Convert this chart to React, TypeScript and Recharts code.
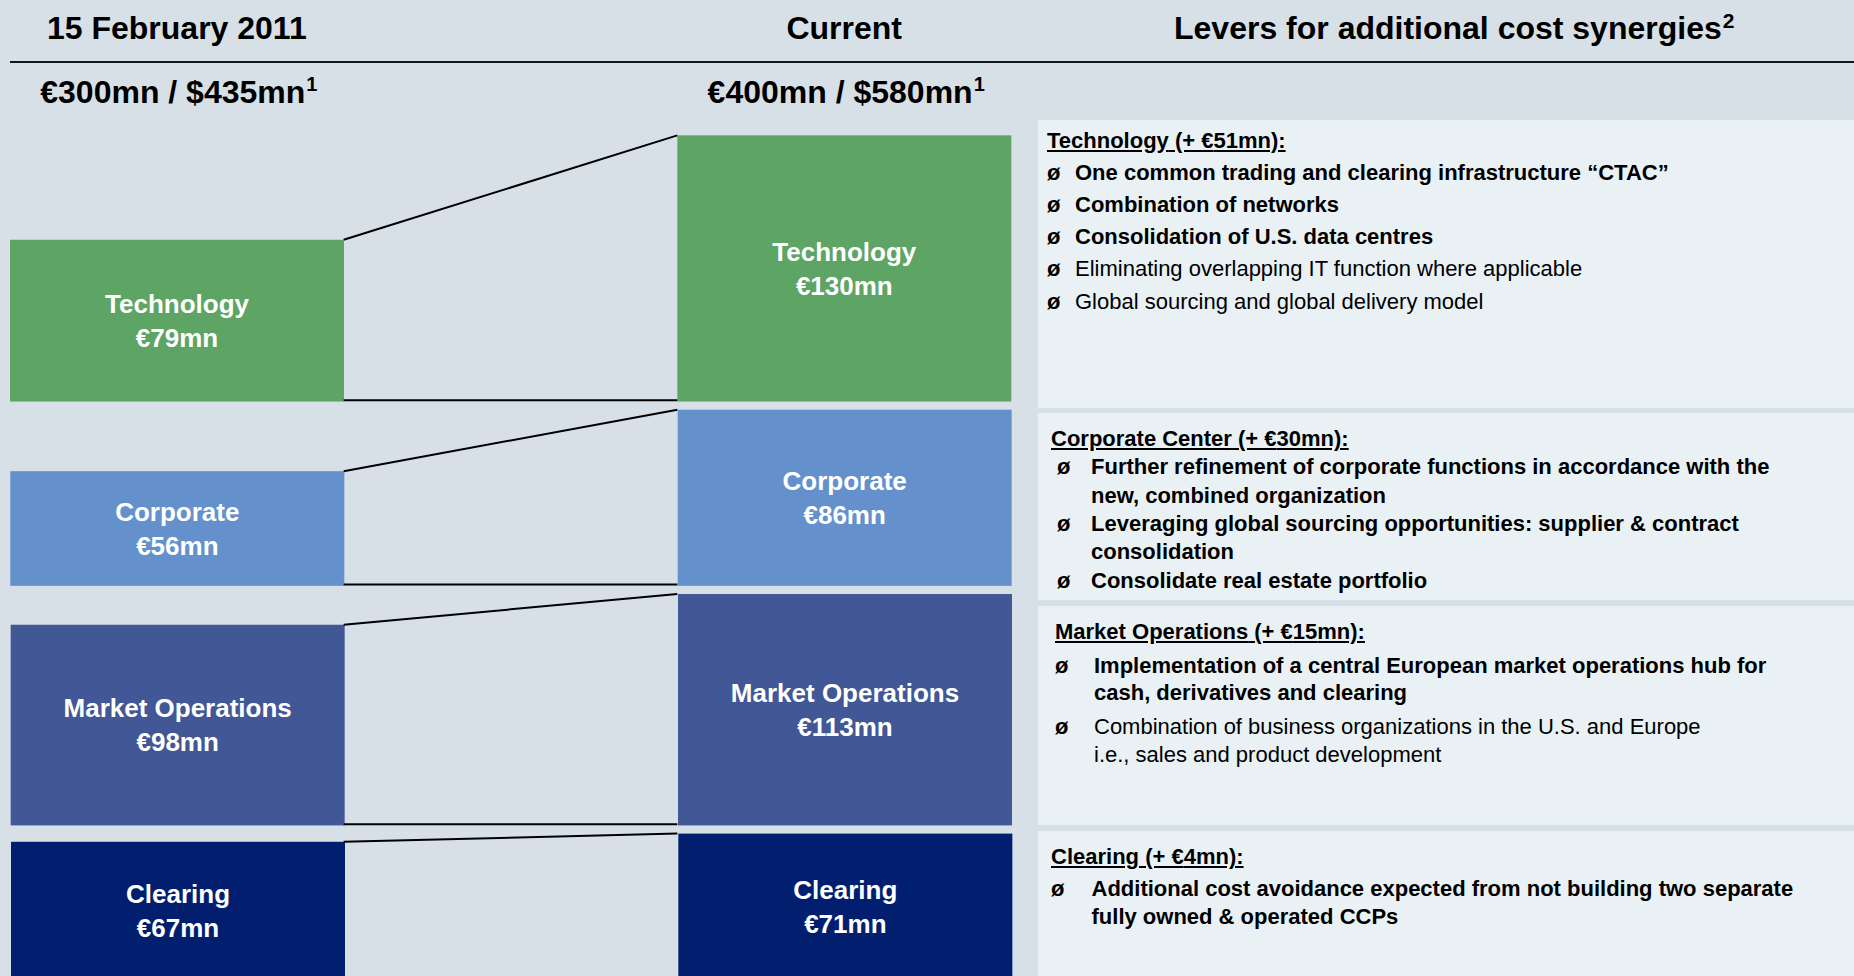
import React from "react";
import { BarChart, Bar, XAxis, YAxis, ReferenceLine } from "recharts";

const SEGMENTS = ["Technology", "Corporate", "Market Operations", "Clearing"];
const FEB_2011 = [79, 56, 98, 67];
const CURRENT = [130, 86, 113, 71];
const COLUMNS = ["15 February 2011", "gap", "Current"];
const USD_TOTALS = [435, null, 580];
const COLORS = ["#5ea465", "#6491cb", "#425796", "#021f6f"];

const LEVER_TITLES = ["Technology", "Corporate Center", "Market Operations", "Clearing"];
const LEVER_ITEMS = [
  [
    { bold: true, lines: ["One common trading and clearing infrastructure \u201cCTAC\u201d"] },
    { bold: true, lines: ["Combination of networks"] },
    { bold: true, lines: ["Consolidation of U.S. data centres"] },
    { bold: false, lines: ["Eliminating overlapping IT function where applicable"] },
    { bold: false, lines: ["Global sourcing and global delivery model"] },
  ],
  [
    { bold: true, lines: ["Further refinement of corporate functions in accordance with the", "new, combined organization"] },
    { bold: true, lines: ["Leveraging global sourcing opportunities: supplier & contract", "consolidation"] },
    { bold: true, lines: ["Consolidate real estate portfolio"] },
  ],
  [
    { bold: true, lines: ["Implementation of a central European market operations hub for", "cash, derivatives and clearing"] },
    { bold: false, lines: ["Combination of business organizations in the U.S. and Europe", "i.e., sales and product development"] },
  ],
  [
    { bold: true, lines: ["Additional cost avoidance expected from not building two separate", "fully owned & operated CCPs"] },
  ],
];

const FONT = '"Liberation Sans", Arial, Helvetica, sans-serif';
const BG = "#d7dfe7";
const PANEL_BG = "#e9f1f5";

// y axis is in €mn, top-down. The current column stacks from TOP with GAP between rows,
// both columns share each row's bottom.
const TOP = 7.5;
const GAP = 4;
const Y_MAX = 420;

const BY_COLUMN = [FEB_2011, null, CURRENT];

let acc = TOP;
const ROW_BOTTOMS = CURRENT.map((v) => {
  acc += v;
  const b = acc;
  acc += GAP;
  return b;
});

const data = COLUMNS.map((column, ci) => {
  const row: any = { column };
  const vals = BY_COLUMN[ci];
  SEGMENTS.forEach((s, si) => {
    row[s] = vals ? [ROW_BOTTOMS[si], ROW_BOTTOMS[si] - vals[si]] : null;
  });
  return row;
});

const PANEL_LAYOUT = [
  { top: 120, bottom: 408, padTop: 4.6, lh: 32.2, itemGap: 0, titleX: 9, bulletX: 9, textX: 37 },
  { top: 413, bottom: 600, padTop: 12.2, lh: 28.3, itemGap: 0, titleX: 13, bulletX: 19, textX: 53 },
  { top: 606, bottom: 825, padTop: 11.9, lh: 27.7, itemGap: 6, titleX: 17, bulletX: 17, textX: 56 },
  { top: 831, bottom: 976, padTop: 12.25, lh: 28.3, itemGap: 3.4, titleX: 13, bulletX: 13, textX: 53.5 },
];

function ColumnTick(props: any) {
  const { x, payload } = props;
  const ci = COLUMNS.indexOf(payload.value);
  const vals = BY_COLUMN[ci];
  if (!vals) return <g />;
  const total = vals.reduce((a, b) => a + b, 0);
  const common = { fontFamily: FONT, fontWeight: "bold", fill: "#000", textAnchor: "middle" as const };
  return (
    <g>
      <text {...common} x={x} y={39} fontSize={32}>{payload.value}</text>
      <text {...common} x={x + 2} y={103} fontSize={32}>
        {`€${total}mn / $${USD_TOTALS[ci]}mn`}
        <tspan dx={1} dy={-12} fontSize={20}>1</tspan>
      </text>
    </g>
  );
}

function block(si: number) {
  return (p: any) => {
    const { x, y, width, height, payload } = p;
    const ci = COLUMNS.indexOf(payload?.column);
    const vals = BY_COLUMN[ci];
    if (!vals || !(height > 0)) return <g />;
    const cx = x + width / 2;
    const cy = y + height / 2;
    const txt = { x: cx, textAnchor: "middle" as const, fontFamily: FONT, fontWeight: "bold", fontSize: 26, fill: "#fff" };
    return (
      <g>
        <rect x={x} y={y} width={width} height={height} fill={COLORS[si]} />
        <text {...txt} y={cy - 7.7}>{SEGMENTS[si]}</text>
        <text {...txt} y={cy + 26.3}>€{vals[si]}mn</text>
      </g>
    );
  };
}

function LeverPanel({ i }: { i: number }) {
  const L = PANEL_LAYOUT[i];
  const saving = CURRENT[i] - FEB_2011[i];
  return (
    <div
      style={{
        position: "absolute", left: 1038, top: L.top, width: 1854 - 1038, height: L.bottom - L.top,
        background: PANEL_BG, boxSizing: "border-box", paddingTop: L.padTop,
        fontFamily: FONT, fontSize: 22, lineHeight: `${L.lh}px`, color: "#000",
      }}
    >
      <div style={{ marginLeft: L.titleX, fontWeight: "bold", textDecoration: "underline", whiteSpace: "nowrap" }}>
        {LEVER_TITLES[i]} (+ €{saving}mn):
      </div>
      {LEVER_ITEMS[i].map((item, k) => (
        <div key={k} style={{ position: "relative", marginTop: L.itemGap, paddingLeft: L.textX, fontWeight: item.bold ? "bold" : "normal" }}>
          <span style={{ position: "absolute", left: L.bulletX, top: 0, fontWeight: "bold" }}>ø</span>
          {item.lines.map((ln, j) => (
            <div key={j} style={{ whiteSpace: "nowrap" }}>{ln}</div>
          ))}
        </div>
      ))}
    </div>
  );
}

export default function App() {
  const lines: any[] = [];
  SEGMENTS.forEach((s, si) => {
    const b = ROW_BOTTOMS[si];
    lines.push(
      <ReferenceLine
        key={s + "-top"}
        segment={[{ x: "gap", y: b - FEB_2011[si] }, { x: "Current", y: b - CURRENT[si] }]}
        position="start"
        stroke="#000"
        strokeWidth={2}
        ifOverflow="visible"
      />
    );
    lines.push(
      <ReferenceLine
        key={s + "-base"}
        segment={[{ x: "gap", y: b - 0.6 }, { x: "Current", y: b - 0.6 }]}
        position="start"
        stroke="#000"
        strokeWidth={2}
        ifOverflow="visible"
      />
    );
  });

  return (
    <div style={{ position: "absolute", left: 0, top: 0, width: 1854, height: 976, overflow: "hidden", background: BG }}>
      <div style={{ position: "absolute", left: 10, top: 61, width: 1844, height: 2, background: "#151515" }} />
      <div
        style={{
          position: "absolute", left: 1174, top: 12, fontFamily: FONT, fontWeight: "bold",
          fontSize: 32, lineHeight: "32px", whiteSpace: "nowrap", color: "#000",
        }}
      >
        Levers for additional cost synergies
        <span style={{ fontSize: 21, position: "relative", top: -11, marginLeft: 1 }}>2</span>
      </div>

      <div style={{ position: "absolute", left: 0, top: 0 }}>
        <BarChart
          width={1021}
          height={980}
          data={data}
          margin={{ top: 0, right: 10, bottom: 0, left: 10 }}
          barCategoryGap={0}
          barGap="-100%"
        >
          <XAxis
            dataKey="column"
            orientation="top"
            height={120}
            axisLine={false}
            tickLine={false}
            interval={0}
            tick={(p: any) => <ColumnTick {...p} />}
          />
          <YAxis type="number" domain={[0, Y_MAX]} reversed hide allowDataOverflow />
          {SEGMENTS.map((s, si) => (
            <Bar key={s} dataKey={s} fill={COLORS[si]} isAnimationActive={false} shape={block(si)} />
          ))}
          {lines}
        </BarChart>
      </div>

      {LEVER_TITLES.map((_, i) => (
        <LeverPanel key={i} i={i} />
      ))}
    </div>
  );
}
